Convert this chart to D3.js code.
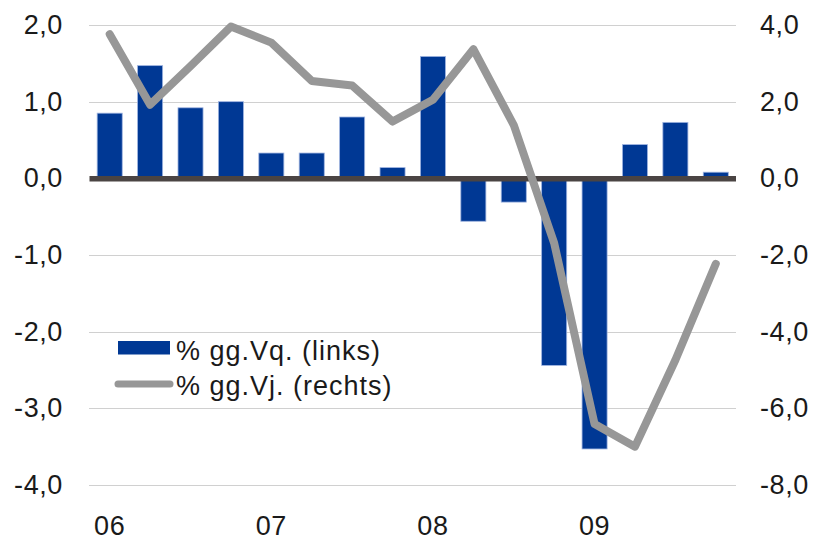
<!DOCTYPE html>
<html>
<head>
<meta charset="utf-8">
<script src="https://cdnjs.cloudflare.com/ajax/libs/d3/7.8.5/d3.min.js"></script>
<style>
  body { margin: 0; background: #fff; }
  svg text { font-family: "Liberation Sans", Arial, sans-serif; fill: #1a1a1a; }
</style>
</head>
<body>
<svg id="chart" width="816" height="539"></svg>
<script>
(function() {
    // Quartale 2006 Q1 .. 2009 Q4
    var quartale = ["06Q1", "06Q2", "06Q3", "06Q4", "07Q1", "07Q2", "07Q3", "07Q4",
                    "08Q1", "08Q2", "08Q3", "08Q4", "09Q1", "09Q2", "09Q3", "09Q4"];
    // % gg. Vorquartal (linke Achse)
    var vq = [0.85, 1.47, 0.92, 1.0, 0.33, 0.33, 0.80, 0.14,
              1.59, -0.56, -0.31, -2.44, -3.53, 0.44, 0.73, 0.08];
    // % gg. Vorjahr (rechte Achse)
    var vj = [3.76, 1.92, 2.93, 3.96, 3.54, 2.54, 2.42, 1.48,
              2.05, 3.37, 1.39, -1.69, -6.41, -7.0, -4.74, -2.23];
    var jahrLabels = {"06Q1": "06", "07Q1": "07", "08Q1": "08", "09Q1": "09"};
    var ticksLinks = [2, 1, 0, -1, -2, -3, -4];
    var ticksRechts = [4, 2, 0, -2, -4, -6, -8];
    var legende = ["% gg.Vq. (links)", "% gg.Vj. (rechts)"];

    var svg = d3.select("#chart"),
        left = 89.5, right = 736, top = 25, bottom = 485;

    var x = d3.scaleBand().domain(quartale).range([left, right]).paddingInner(0.38).paddingOuter(0.19);
    var yL = d3.scaleLinear().domain([-4, 2]).range([bottom, top]);
    var yR = d3.scaleLinear().domain([-8, 4]).range([bottom, top]);
    var fmt = function(d) { return d3.format(".1f")(d).replace(".", ",").replace("−", "-"); };

    // Gitterlinien (gepunktet)
    svg.append("g")
        .selectAll("line")
        .data(ticksLinks.filter(function(d) { return d !== 0; }))
        .join("line")
        .attr("x1", left).attr("x2", right)
        .attr("y1", function(d) { return Math.round(yL(d)) + 0.5; })
        .attr("y2", function(d) { return Math.round(yL(d)) + 0.5; })
        .attr("stroke", "#a0a0a0")
        .attr("stroke-width", 1)
        .attr("stroke-dasharray", "1,1");

    // Balken
    svg.append("g")
        .selectAll("rect")
        .data(vq)
        .join("rect")
        .attr("x", function(d, i) { return x(quartale[i]); })
        .attr("width", x.bandwidth())
        .attr("y", function(d) { return yL(Math.max(0, d)); })
        .attr("height", function(d) { return Math.abs(yL(d) - yL(0)); })
        .attr("fill", "#003894")
        .attr("stroke", "#9fb4e0")
        .attr("stroke-width", 0.8);

    // Nulllinie
    svg.append("line")
        .attr("x1", left).attr("x2", right)
        .attr("y1", yL(0) + 0.5).attr("y2", yL(0) + 0.5)
        .attr("stroke", "#4a4443")
        .attr("stroke-width", 5.5);

    // Linie
    var line = d3.line()
        .x(function(d, i) { return x(quartale[i]) + x.bandwidth() / 2; })
        .y(function(d) { return yR(d); });

    svg.append("path")
        .datum(vj)
        .attr("d", line)
        .attr("fill", "none")
        .attr("stroke", "#979797")
        .attr("stroke-width", 8)
        .attr("stroke-linejoin", "round")
        .attr("stroke-linecap", "round");

    // Achsen links / rechts
    var axL = svg.append("g")
        .attr("transform", "translate(63,0)")
        .call(d3.axisLeft(yL).tickValues(ticksLinks).tickFormat(fmt).tickSize(0).tickPadding(0));
    var axR = svg.append("g")
        .attr("transform", "translate(760,0)")
        .call(d3.axisRight(yR).tickValues(ticksRechts).tickFormat(fmt).tickSize(0).tickPadding(0));
    [axL, axR].forEach(function(ax) {
        ax.select(".domain").remove();
        ax.selectAll("text")
            .attr("font-family", "Liberation Sans, Arial, sans-serif")
            .attr("font-size", 27)
            .attr("letter-spacing", 0.6)
            .attr("fill", "#111");
    });

    // Jahres-Beschriftung
    svg.append("g")
        .selectAll("text")
        .data(quartale.filter(function(q) { return jahrLabels[q]; }))
        .join("text")
        .attr("x", function(q) { return x(q) + x.bandwidth() / 2; })
        .attr("y", 535)
        .attr("text-anchor", "middle")
        .attr("font-size", 27)
        .attr("letter-spacing", 0.6)
        .attr("fill", "#111")
        .text(function(q) { return jahrLabels[q]; });

    // Legende
    var lg = svg.append("g");
    lg.append("rect")
        .attr("x", 118).attr("y", 341)
        .attr("width", 52).attr("height", 13.5)
        .attr("fill", "#003894");
    lg.append("line")
        .attr("x1", 118).attr("x2", 170)
        .attr("y1", 384).attr("y2", 384)
        .attr("stroke", "#979797")
        .attr("stroke-width", 7)
        .attr("stroke-linecap", "round");
    lg.selectAll("text")
        .data(legende)
        .join("text")
        .attr("x", 176)
        .attr("y", function(d, i) { return 360 + i * 35; })
        .attr("font-size", 27)
        .attr("letter-spacing", 1)
        .attr("fill", "#111")
        .text(function(d) { return d; });
})();
</script>
</body>
</html>
